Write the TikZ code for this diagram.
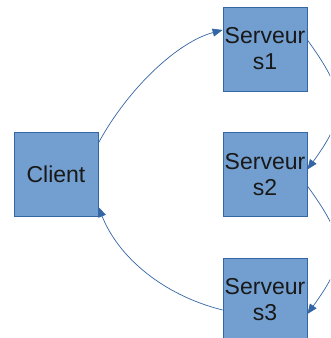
\documentclass[tikz,border=0pt]{standalone}
\usepackage{fontspec}
\setmainfont{Liberation Sans}
\usetikzlibrary{arrows.meta}
\definecolor{boxfill}{HTML}{729FCF}
\definecolor{boxline}{HTML}{3465A4}
\begin{document}
\begin{tikzpicture}[x=1pt,y=-1pt,
  box/.style={draw=boxline,fill=boxfill,line width=0.8pt,minimum width=84pt,minimum height=84pt,
    inner sep=0pt,align=center,font=\fontsize{23}{26}\selectfont,text=black!90},
  conn/.style={draw=boxline,line width=0.7pt,-{Triangle[length=10pt,width=8pt]}}]
\useasboundingbox (0,0) rectangle (330,338);
\clip (0,0) rectangle (330,338);
\node[box] (c) at (56,174.5) {Client};
\node[box] (s1) at (265,49) {Serveur\\s1};
\node[box] (s2) at (265,174.5) {Serveur\\s2};
\node[box] (s3) at (265,300) {Serveur\\s3};
\draw[conn] ([yshift=31.5pt]c.east) .. controls +(30pt,55pt) and +(-45pt,-12pt) .. ([yshift=19pt]s1.west);
\draw[conn] ([yshift=9pt]s1.east) .. controls +(40pt,-55pt) and +(40pt,55pt) .. ([yshift=5pt]s2.east);
\draw[conn] ([yshift=-11.5pt]s2.east) .. controls +(40pt,-55pt) and +(40pt,55pt) .. ([yshift=-14pt]s3.east);
\draw[conn] ([yshift=-10pt]s3.west) .. controls +(-60pt,15pt) and +(20pt,-50pt) .. ([yshift=-32.5pt]c.east);
\end{tikzpicture}
\end{document}
